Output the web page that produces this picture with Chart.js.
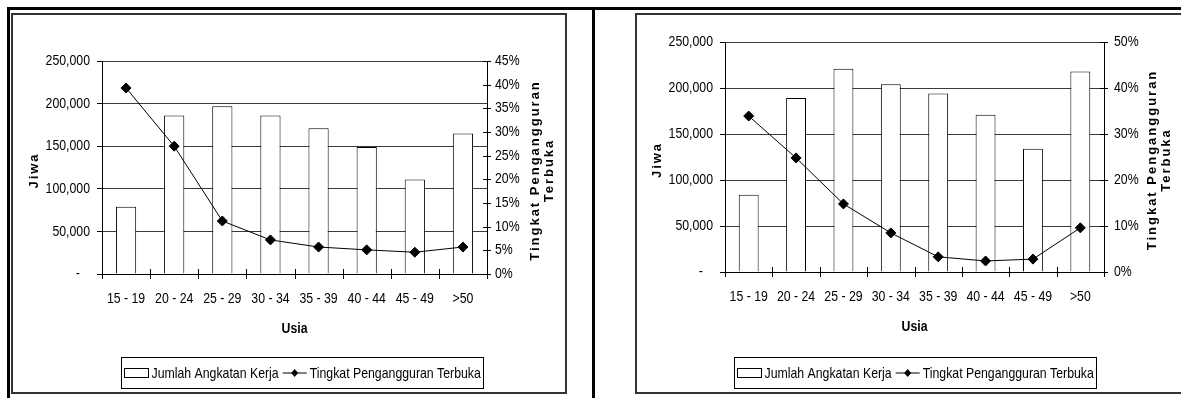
<!DOCTYPE html>
<html>
<head>
<meta charset="utf-8">
<script src="https://cdn.jsdelivr.net/npm/chart.js@4.4.1/dist/chart.umd.min.js"></script>
<style>
  html, body { margin: 0; padding: 0; background: #fff; }
  body { width: 1181px; height: 398px; position: relative; overflow: hidden; }
  .rule { position: absolute; background: #000; }
  .frame { position: absolute; box-sizing: border-box; border: 2px solid #333; }
  canvas { position: absolute; }
</style>
</head>
<body>
<div class="rule" style="left:7px;top:7px;width:1174px;height:3px"></div>
<div class="rule" style="left:7px;top:7px;width:3px;height:391px"></div>
<div class="rule" style="left:592px;top:7px;width:3px;height:391px"></div>
<div class="frame" style="left:11px;top:13px;width:556px;height:381px"></div>
<div class="frame" style="left:635px;top:13px;width:560px;height:381px"></div>
<canvas id="chartA" width="552" height="377" style="left:13px;top:15px"></canvas>
<canvas id="chartB" width="544" height="377" style="left:637px;top:15px"></canvas>

<script>
// Age groups on the category axis
const ageGroups = ['15 - 19', '20 - 24', '25 - 29', '30 - 34', '35 - 39', '40 - 44', '45 - 49', '>50'];

// First panel: labour force (people) and open unemployment rate (%)
const workforceA = [79000, 186000, 197000, 186000, 171000, 149000, 111000, 165000];
const unemploymentA = [39.3, 27.0, 11.2, 7.2, 5.7, 5.1, 4.6, 5.7];

// Second panel
const workforceB = [84000, 189000, 221000, 204000, 194000, 171000, 134000, 218000];
const unemploymentB = [33.9, 24.8, 14.8, 8.5, 3.3, 2.4, 2.8, 9.6];

// Axis tick values
const workforceTicks = [0, 50000, 100000, 150000, 200000, 250000];
const rateTicksA = [0, 5, 10, 15, 20, 25, 30, 35, 40, 45];
const rateTicksB = [0, 10, 20, 30, 40, 50];

// Titles and series names
const barLabel = 'Jumlah Angkatan Kerja';
const lineLabel = 'Tingkat Pengangguran Terbuka';
const xTitle = 'Usia';
const yTitle = 'Jiwa';
const rateTitle = ['Tingkat Pengangguran', 'Terbuka'];

const FACE = '"Liberation Sans", Arial, sans-serif';
const SQUEEZE = 0.82; // horizontal squeeze for a narrow-style face

const fmtPeople = v => (v === 0 ? '-   ' : v.toLocaleString('en-US'));
const fmtRate = v => v + '%';

function narrowText(ctx, text, x, y, align, font) {
  ctx.save();
  ctx.font = font;
  ctx.textAlign = align;
  ctx.textBaseline = 'middle';
  ctx.translate(x, y);
  ctx.scale(SQUEEZE, 1);
  ctx.fillText(text, 0, 0);
  ctx.restore();
}
function narrowWidth(ctx, text, font) {
  ctx.save();
  ctx.font = font;
  const w = ctx.measureText(text).width * SQUEEZE;
  ctx.restore();
  return w;
}

// Tick labels, crossing tick marks, axis titles and a boxed legend
const decor = {
  id: 'decor',
  afterDraw(chart, args, o) {
    const ctx = chart.ctx;
    const a = chart.chartArea;
    const xs = chart.scales.x;
    const yl = chart.scales.y;
    const yr = chart.scales.yR;
    const labelFont = '15px ' + FACE;
    ctx.save();
    ctx.strokeStyle = '#000';
    ctx.fillStyle = '#000';
    ctx.lineWidth = 1;

    ctx.beginPath();
    for (let i = 0; i <= chart.data.labels.length; i++) {
      const px = Math.round(xs.getPixelForValue(i - 0.5)) + 0.5;
      ctx.moveTo(px, a.bottom - 5);
      ctx.lineTo(px, a.bottom + 5);
    }
    yr.ticks.forEach(t => {
      const py = Math.round(yr.getPixelForValue(t.value)) + 0.5;
      ctx.moveTo(a.right - 4, py);
      ctx.lineTo(a.right + 4, py);
    });
    ctx.stroke();

    // tick labels
    chart.data.labels.forEach((lab, i) => {
      narrowText(ctx, lab, xs.getPixelForValue(i), a.bottom + 25, 'center', labelFont);
    });
    yl.ticks.forEach(t => {
      narrowText(ctx, fmtPeople(t.value), a.left - 12, yl.getPixelForValue(t.value), 'right', labelFont);
    });
    yr.ticks.forEach(t => {
      narrowText(ctx, fmtRate(t.value), a.right + o.ratePad, yr.getPixelForValue(t.value), 'left', labelFont);
    });

    // axis titles
    narrowText(ctx, o.xTitle, (a.left + a.right) / 2, a.bottom + 55, 'center', 'bold 15px ' + FACE);

    ctx.textAlign = 'center';
    ctx.textBaseline = 'middle';
    ctx.font = 'bold 13px ' + FACE;
    ctx.letterSpacing = '2px';
    const midY = (a.top + a.bottom) / 2 + 3;
    ctx.save();
    ctx.translate(a.left - 68, midY);
    ctx.rotate(-Math.PI / 2);
    ctx.fillText(o.yTitle, 0, 0);
    ctx.restore();
    o.rateTitle.forEach((line, i) => {
      ctx.save();
      ctx.translate(a.right + 48 + 14 * i, midY);
      ctx.rotate(-Math.PI / 2);
      ctx.fillText(line, 0, 0);
      ctx.restore();
    });
    ctx.letterSpacing = '0px';

    // legend
    const ds = chart.data.datasets;
    const w0 = narrowWidth(ctx, ds[0].label, labelFont);
    const w1 = narrowWidth(ctx, ds[1].label, labelFont);
    const sw = 24, gap = 3, pad = 3, mid = 4, h = 31;
    const width = Math.round(pad + sw + gap + w0 + mid + sw + gap + w1 + pad);
    const left = Math.round(o.legendX - width / 2) + 0.5;
    const top = o.legendTop + 0.5;
    ctx.strokeRect(left, top, width, h);
    const cy = Math.round(top + h / 2) - 0.5;
    let cx = left + pad;
    ctx.fillStyle = '#fff';
    ctx.fillRect(cx, cy - 4, sw, 9);
    ctx.strokeRect(cx, cy - 4, sw, 9);
    cx += sw + gap;
    ctx.fillStyle = '#000';
    narrowText(ctx, ds[0].label, cx, cy + 1, 'left', labelFont);
    cx += w0 + mid;
    ctx.beginPath();
    ctx.moveTo(cx, cy + 0.5);
    ctx.lineTo(cx + sw, cy + 0.5);
    ctx.stroke();
    const dx = cx + sw / 2, dy = cy + 0.5;
    ctx.beginPath();
    ctx.moveTo(dx, dy - 4);
    ctx.lineTo(dx + 3.5, dy);
    ctx.lineTo(dx, dy + 4);
    ctx.lineTo(dx - 3.5, dy);
    ctx.closePath();
    ctx.fill();
    cx += sw + gap;
    narrowText(ctx, ds[1].label, cx, cy + 1, 'left', labelFont);
    ctx.restore();
  }
};

function buildChart(id, workforce, rates, rateTicks, look) {
  return new Chart(document.getElementById(id), {
    type: 'bar',
    data: {
      labels: ageGroups,
      datasets: [
        {
          type: 'bar',
          label: barLabel,
          data: workforce,
          yAxisID: 'y',
          backgroundColor: '#fff',
          borderColor: '#000',
          borderWidth: 1,
          barPercentage: 0.42,
          categoryPercentage: 1,
          order: 2
        },
        {
          type: 'line',
          label: lineLabel,
          data: rates,
          yAxisID: 'yR',
          borderColor: '#000',
          borderWidth: 1,
          tension: 0,
          pointStyle: 'rectRot',
          pointRadius: 5,
          pointBackgroundColor: '#000',
          pointBorderColor: '#000',
          pointBorderWidth: 1,
          order: 1
        }
      ]
    },
    options: {
      responsive: false,
      animation: false,
      devicePixelRatio: 1,
      layout: { padding: { left: 0, right: 0, top: look.top, bottom: 0 } },
      plugins: {
        legend: { display: false },
        tooltip: { enabled: false },
        decor: {
          xTitle: xTitle,
          yTitle: yTitle,
          rateTitle: rateTitle,
          ratePad: look.ratePad,
          legendX: look.legendX,
          legendTop: look.legendTop
        }
      },
      scales: {
        x: {
          type: 'category',
          offset: true,
          grid: { display: false },
          border: { color: '#000', width: 1 },
          ticks: { display: false },
          afterFit(s) { s.height = look.xHeight; }
        },
        y: {
          position: 'left',
          min: 0,
          max: workforceTicks[workforceTicks.length - 1],
          grid: { color: '#3a3a3a', tickColor: '#000', tickLength: 5 },
          border: { color: '#000', width: 1 },
          ticks: { display: false },
          afterBuildTicks(s) { s.ticks = workforceTicks.map(v => ({ value: v })); },
          afterFit(s) { s.width = look.yWidth; }
        },
        yR: {
          position: 'right',
          min: 0,
          max: rateTicks[rateTicks.length - 1],
          grid: { display: false },
          border: { display: true, color: '#000', width: 1 },
          ticks: { display: false },
          afterBuildTicks(s) { s.ticks = rateTicks.map(v => ({ value: v })); },
          afterFit(s) { s.width = look.rWidth; }
        }
      }
    },
    plugins: [decor]
  });
}

buildChart('chartA', workforceA, unemploymentA, rateTicksA, {
  top: 46, yWidth: 89, rWidth: 78, xHeight: 118, ratePad: 8, legendX: 288.5, legendTop: 342
});
buildChart('chartB', workforceB, unemploymentB, rateTicksB, {
  top: 27, yWidth: 88, rWidth: 77, xHeight: 120, ratePad: 10, legendX: 278, legendTop: 342
});
</script>
</body>
</html>
